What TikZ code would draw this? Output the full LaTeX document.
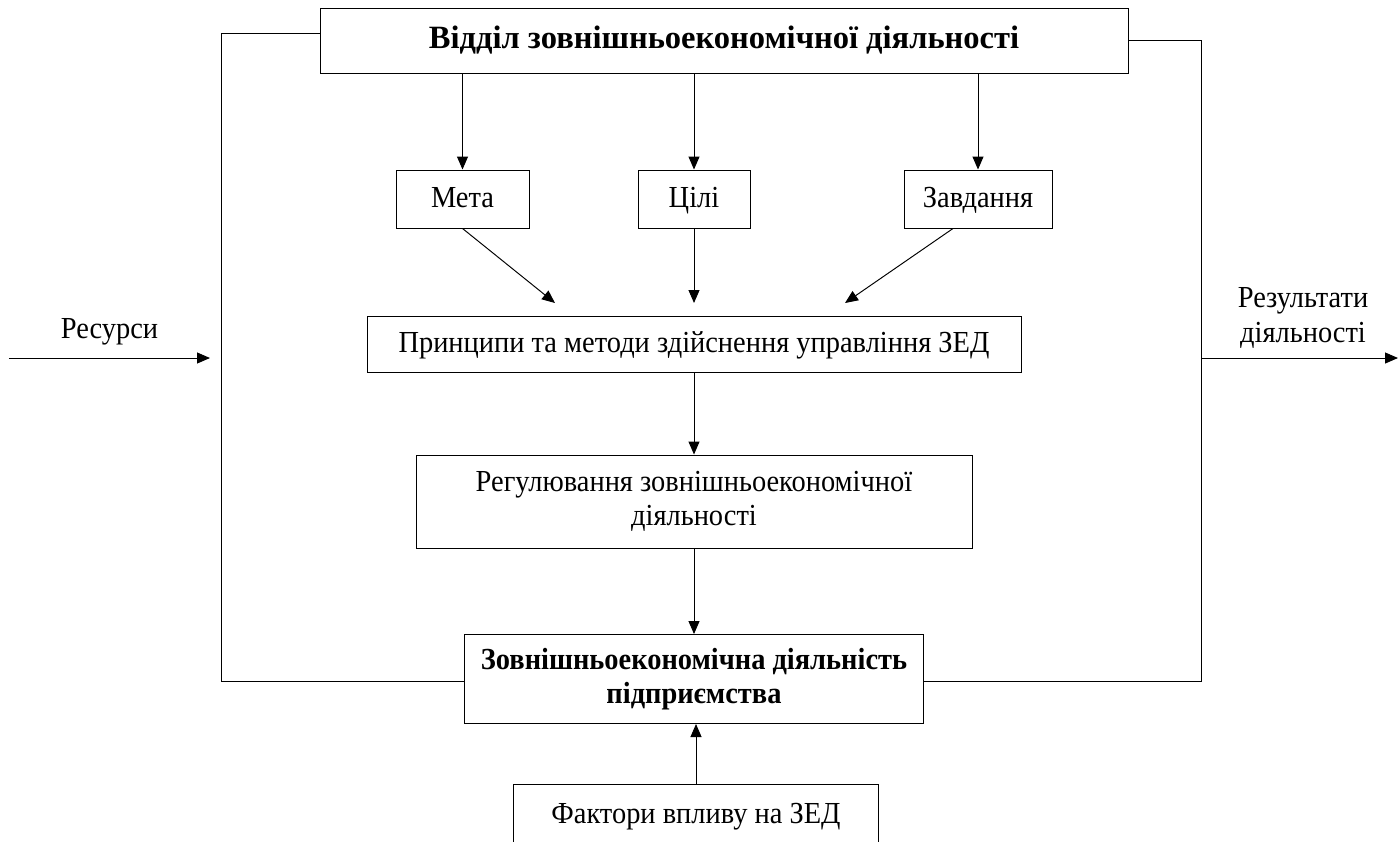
\documentclass[tikz,border=0pt]{standalone}
\usepackage{fontspec}
\setmainfont[FakeStretch=0.93]{Liberation Serif}
\usetikzlibrary{arrows.meta, positioning}

\tikzset{
    box/.style={draw, line width=0.55pt, align=center, inner sep=2pt},
    onebox/.style={box, text height=2.4ex, text depth=0.4ex},
    arr/.style={line width=0.55pt, -{Triangle[length=0.26cm, width=0.22cm]}},
    line/.style={line width=0.55pt}
}

\begin{document}
\begin{tikzpicture}[font=\fontsize{17.4}{19.6}\selectfont]

\useasboundingbox (0,0) rectangle (27.98,-16.82);

% Main boxes
\node[onebox, minimum width=16.16cm, minimum height=1.3cm] (dept) at (14.48,-0.81)
    {\fontsize{18.5}{20}\selectfont\addfontfeatures{FakeStretch=1}\textbf{Відділ зовнішньоекономічної діяльності}};
\node[onebox, minimum width=2.66cm, minimum height=1.16cm] (meta) at (9.25,-3.98) {Мета};
\node[onebox, minimum width=2.24cm, minimum height=1.16cm] (cili) at (13.88,-3.98) {Цілі};
\node[onebox, minimum width=2.96cm, minimum height=1.16cm] (zavd) at (19.56,-3.98) {Завдання};
\node[onebox, minimum width=13.08cm, minimum height=1.12cm] (prynts) at (13.88,-6.88)
    {Принципи та методи здійснення управління ЗЕД};
\node[box, minimum width=11.12cm, minimum height=1.86cm] (reg) at (13.88,-10.03)
    {Регулювання зовнішньоекономічної\\діяльності};
\node[box, minimum width=9.18cm, minimum height=1.78cm] (zed) at (13.88,-13.58)
    {\textbf{Зовнішньоекономічна діяльність}\\\textbf{підприємства}};
\node[onebox, minimum width=7.3cm, minimum height=1.24cm] (fakt) at (13.92,-16.3)
    {Фактори впливу на ЗЕД};

% Side labels
\node[anchor=base] (res) at (2.19,-6.76) {Ресурси};
\node[align=center] (rez) at (26.06,-6.36) {Результати\\діяльності};

% Helper points
\coordinate (resin) at (0.18,-7.16);
\coordinate (resend) at (4.2,-7.16);
\coordinate (lb) at (4.42,-13.62);
\coordinate (rb) at (24.02,-13.62);
\coordinate (out) at (27.96,-7.16);
\coordinate (pm) at (11.1,-6.06);
\coordinate (pc) at (13.88,-6.06);
\coordinate (pz) at (16.9,-6.06);

% Arrows from the department
\foreach \n in {meta,cili,zavd}
{
    \draw[arr] (\n.north |- dept.south) -- (\n.north);
}

% Arrows towards the principles
\draw[arr] (meta.south) -- (pm);
\draw[arr] (cili.south) -- (pc);
\draw[arr] ([xshift=-0.5cm]zavd.south) -- (pz);

% Vertical chain
\draw[arr] (prynts.south) -- (reg.north);
\draw[arr] (reg.south) -- (zed.north);
\draw[arr] (fakt.north) -- (fakt.north |- zed.south);

% Feedback loops
\draw[line] ([yshift=0.15cm]dept.west) -| (lb) -- (lb -| zed.west);
\draw[line] (dept.east) -| (rb) -- (rb -| zed.east);

% Input and output
\draw[arr] (resin) -- (resend);
\draw[arr] (rb |- out) -- (out);

\end{tikzpicture}
\end{document}
